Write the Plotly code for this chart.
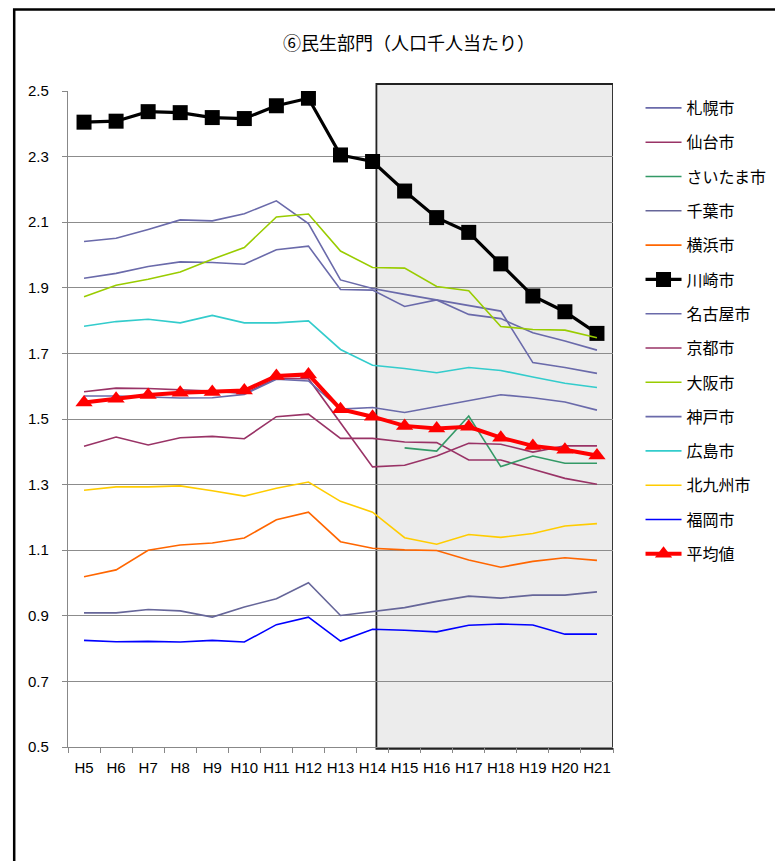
import plotly.graph_objects as go

years = ["H5","H6","H7","H8","H9","H10","H11","H12","H13","H14","H15","H16","H17","H18","H19","H20","H21"]

sapporo   = [2.041,2.051,2.078,2.107,2.104,2.126,2.165,2.096,1.924,1.898,1.880,1.863,1.845,1.829,1.672,1.657,1.639]
sendai    = [1.417,1.445,1.421,1.443,1.447,1.440,1.507,1.515,1.441,1.441,1.430,1.428,1.375,1.375,1.347,1.319,1.301]
saitama   = [None,None,None,None,None,None,None,None,None,None,1.412,1.402,1.509,1.355,1.387,1.365,1.365]
chiba     = [0.909,0.909,0.919,0.915,0.896,0.927,0.952,1.001,0.901,0.912,0.925,0.944,0.960,0.954,0.963,0.963,0.973]
yokohama  = [1.019,1.040,1.100,1.116,1.122,1.137,1.193,1.216,1.126,1.106,1.101,1.099,1.070,1.048,1.066,1.077,1.069]
kawasaki  = [2.405,2.408,2.437,2.434,2.419,2.416,2.455,2.478,2.305,2.285,2.195,2.114,2.069,1.973,1.875,1.827,1.761]
nagoya    = [1.929,1.944,1.965,1.979,1.977,1.972,2.016,2.027,1.895,1.893,1.843,1.863,1.819,1.806,1.763,1.738,1.710]
kyoto     = [1.583,1.594,1.593,1.590,1.585,1.578,1.623,1.623,1.490,1.354,1.359,1.387,1.426,1.423,1.399,1.418,1.418]
osaka     = [1.873,1.908,1.926,1.948,1.987,2.023,2.116,2.125,2.012,1.962,1.960,1.904,1.891,1.782,1.773,1.771,1.748]
kobe      = [1.570,1.570,1.567,1.564,1.565,1.575,1.621,1.616,1.530,1.535,1.520,1.538,1.558,1.574,1.565,1.552,1.527]
hiroshima = [1.783,1.797,1.804,1.793,1.816,1.793,1.793,1.799,1.712,1.664,1.654,1.641,1.657,1.648,1.628,1.609,1.596]
kitakyu   = [1.283,1.293,1.293,1.296,1.281,1.265,1.289,1.308,1.249,1.216,1.138,1.118,1.148,1.139,1.151,1.174,1.181]
fukuoka   = [0.825,0.821,0.822,0.820,0.825,0.820,0.873,0.896,0.823,0.859,0.856,0.851,0.871,0.875,0.872,0.844,0.844]
average   = [1.550,1.562,1.573,1.580,1.582,1.587,1.631,1.636,1.530,1.507,1.479,1.471,1.476,1.443,1.418,1.406,1.389]

yticks = [0.5,0.7,0.9,1.1,1.3,1.5,1.7,1.9,2.1,2.3,2.5]

series = [
    ("札幌市", sapporo, "#6A6AAA", 1.6),
    ("仙台市", sendai, "#993366", 1.6),
    ("さいたま市", saitama, "#339966", 1.6),
    ("千葉市", chiba, "#666699", 1.6),
    ("横浜市", yokohama, "#FF6600", 1.6),
    ("川崎市", kawasaki, "#000000", 3.2),
    ("名古屋市", nagoya, "#6A6AAA", 1.6),
    ("京都市", kyoto, "#993366", 1.6),
    ("大阪市", osaka, "#99CC00", 1.6),
    ("神戸市", kobe, "#6A6AAA", 1.6),
    ("広島市", hiroshima, "#33CCCC", 1.6),
    ("北九州市", kitakyu, "#FFCC00", 1.6),
    ("福岡市", fukuoka, "#0000FF", 1.6),
    ("平均値", average, "#FF0000", 4),
]

JP = "Noto Sans CJK JP, sans-serif"
TICK = "Liberation Sans, Arial, sans-serif"

# page body has an 8px margin, so figure is offset by 8px
W, H = 775, 853
L, T, PW, PH = 60, 83, 547, 656

fig = go.Figure()
for i, (name, vals, col, w) in enumerate(series):
    if name == "川崎市":
        mode = "lines+markers"
        marker = dict(symbol="square", size=15, color=col)
    elif name == "平均値":
        mode = "lines+markers"
        marker = dict(symbol="triangle-up", size=15, color=col)
    else:
        mode = "lines"
        marker = None
    fig.add_trace(go.Scatter(
        x=years, y=vals, name=name, mode=mode,
        line=dict(color=col, width=w),
        marker=marker, legendgroup=f"g{i}",
        connectgaps=False,
    ))

# shaded period box
fig.add_shape(type="rect", xref="x", yref="paper",
              x0=9.12, x1=16.5, y0=-0.003, y1=1.0107,
              fillcolor="#ECECEC", line=dict(color="#222222", width=1.8),
              layer="below")
# outer chart border (extends past right/bottom edge)
fig.add_shape(type="rect", xref="paper", yref="paper",
              x0=(6-L)/PW, x1=(800-L)/PW,
              y0=(T+PH-900)/PH, y1=(T+PH-1.5)/PH,
              line=dict(color="#000000", width=2.5), fillcolor="rgba(0,0,0,0)")

fig.update_layout(
    width=W, height=H,
    margin=dict(l=L, r=W-L-PW, t=T, b=H-T-PH),
    paper_bgcolor="white", plot_bgcolor="rgba(0,0,0,0)",
    title=dict(text="⑥民生部門（人口千人当たり）", x=401/W, xanchor="center",
               y=1-36/H, yanchor="middle", yref="container",
               font=dict(family=JP, size=18, color="#000000")),
    showlegend=True,
    legend=dict(x=1.0505, xanchor="left", y=1.0, yanchor="top",
                font=dict(family=JP, size=16, color="#000000"),
                tracegroupgap=10.5, itemwidth=36,
                bgcolor="rgba(0,0,0,0)"),
    xaxis=dict(type="category", range=[-0.5, 16.5], showgrid=False,
               showline=True, linecolor="#888888", linewidth=1.2,
               ticks="outside", tickson="boundaries", ticklen=5, tickcolor="#888888",
               tickangle=0, ticklabelstandoff=7,
               tickfont=dict(family=TICK, size=15, color="#000000")),
    yaxis=dict(range=[0.5, 2.5], tickvals=yticks, ticktext=[f"{v:.1f}" for v in yticks],
               showgrid=True, gridcolor="#8C8C8C", gridwidth=1,
               showline=True, linecolor="#888888", linewidth=1.2,
               ticks="outside", ticklen=5, tickcolor="#888888",
               zeroline=False, ticklabelstandoff=10,
               tickfont=dict(family=TICK, size=15, color="#000000")),
)

fig.write_html("out.html")
